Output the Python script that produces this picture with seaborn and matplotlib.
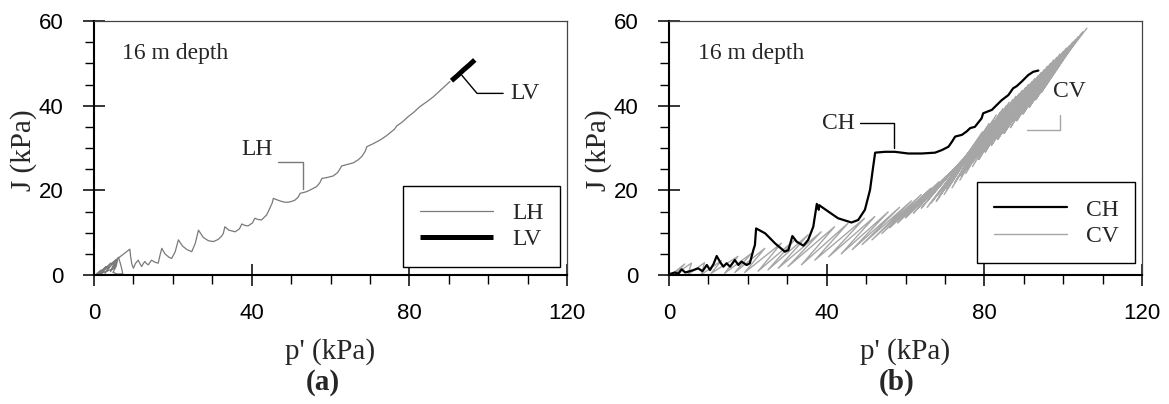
import matplotlib
matplotlib.use("Agg")
import matplotlib.pyplot as plt
import seaborn as sns
from matplotlib.ticker import MultipleLocator, FixedLocator

# ---------------- data ----------------
x_ticks = [0, 40, 80, 120]
y_ticks = [0, 20, 40, 60]

# Panel (a): LH path (cyclic horizontal loading) and LV path
lh_p = [0.3, 1.8, 1.0, 3.0, 1.8, 4.2, 2.8, 5.4, 4.2, 6.2, 6.6, 7.0, 7.3, 6.0, 4.8, 5.6, 6.0, 5.0,
        0.6, 9.1, 9.3, 9.6, 10.0, 10.5, 11.2, 11.7, 12.1, 12.5, 12.9, 13.3, 13.8, 14.2, 14.6, 15.5,
        16.3, 16.7, 17.2, 18.0, 19.0, 19.7, 20.6, 21.4, 22.5, 23.6, 24.8, 25.7, 26.5, 27.7, 29.0,
        30.3, 31.5, 32.4, 32.8, 33.2, 34.2, 35.8, 36.9, 37.5, 38.3, 39.1, 40.2, 40.8, 41.7, 42.5,
        43.8, 44.6, 45.2, 45.5, 46.3, 47.2, 48.3, 49.3, 50.2, 51.0, 51.8, 52.3, 53.2, 54.0, 55.3,
        56.5, 57.3, 57.8, 59.0, 60.7, 61.8, 62.5, 62.8, 64.2, 65.8, 67.0, 67.9, 68.8, 69.2, 70.8,
        72.6, 74.2, 75.5, 76.2, 76.8, 78.3, 79.7, 81.2, 82.7, 84.4, 86.1, 88.2, 90.3]
lh_J = [0.0, 1.2, 0.1, 2.0, 0.2, 2.8, 0.4, 3.5, 0.8, 4.2, 3.0, 1.6, 0.3, 0.2, 0.6, 2.0, 3.6, 1.5,
        0.0, 6.1, 4.3, 2.6, 1.6, 2.7, 3.5, 2.6, 2.0, 2.7, 3.2, 2.7, 2.4, 3.0, 3.5, 3.0,
        2.8, 4.5, 6.3, 5.0, 4.2, 3.9, 5.5, 8.3, 6.8, 6.0, 5.5, 7.5, 10.6, 8.9, 8.1,
        7.9, 8.4, 9.2, 9.8, 11.4, 10.6, 10.2, 10.9, 12.05, 11.7, 11.6, 12.3, 13.4, 13.1, 13.0,
        14.2, 15.75, 17.0, 18.1, 17.8, 17.5, 17.2, 17.2, 17.4, 17.7, 18.4, 19.3, 19.5, 19.7, 20.3,
        20.9, 21.8, 22.8, 23.0, 23.4, 24.2, 25.2, 25.75, 26.1, 26.5, 27.2, 27.95, 29.2, 30.3, 31.0,
        31.9, 32.9, 33.9, 34.4, 35.2, 36.2, 37.4, 38.5, 39.8, 40.9, 42.1, 43.9, 45.7]
lv_p = [90.7, 92.2, 93.7, 95.2, 96.6]
lv_J = [45.9, 47.1, 48.4, 49.6, 50.8]

# Panel (b): CH path
ch_p = [0.25, 1.5, 2.4, 3.22, 4.1, 4.9, 6.0, 7.4, 8.5, 9.6, 10.4, 11.3, 12.1, 13.0, 13.8, 14.6, 15.5,
        16.7, 17.6, 18.4, 19.7, 20.5, 21.4, 21.8, 22.1, 24.4, 26.9, 29.4, 30.3, 31.3, 32.4, 34.1,
        35.3, 36.6, 37.5, 38.0, 38.1, 38.7, 40.4, 42.9, 46.3, 48.0, 49.7, 51.0, 51.8, 52.3, 54.8,
        57.3, 60.7, 64.1, 67.5, 69.2, 70.9, 71.8, 72.6, 74.3, 75.5, 76.4, 77.6, 79.3, 79.7, 81.9,
        84.4, 86.1, 87.3, 88.2, 89.5, 91.1, 92.4, 93.7]
ch_J = [0.24, 0.6, 0.3, 1.34, 0.6, 0.79, 1.1, 1.57, 0.9, 2.36, 1.18, 2.6, 4.49, 3.0, 1.97, 2.76, 1.97,
        3.54, 2.36, 3.15, 2.36, 2.76, 5.9, 7.1, 11.0, 9.84, 7.48, 5.51, 5.9, 9.2, 7.87, 6.93,
        8.27, 11.4, 16.8, 15.4, 16.5, 16.1, 15.0, 13.4, 12.4, 13.0, 15.4, 20.1, 25.6, 28.9, 29.1,
        29.1, 28.7, 28.7, 28.9, 29.5, 30.3, 31.5, 32.7, 33.1, 33.9, 34.7, 35.0, 37.0, 38.2, 39.0,
        41.3, 42.5, 44.1, 44.6, 45.7, 47.2, 48.0, 48.3]

# Panel (b): CV cycles (lower-left and upper-right end of each load cycle)
cv_start_p = [0.5, 1.4, 4.8, 8.2, 10.7, 14.1, 16.7, 19.2, 22.6, 25.1, 27.7, 30.2, 33.6, 37.0, 40.5,
              43.7, 46.5, 49.0, 51.5, 54.0, 56.0, 58.0, 60.0, 62.0, 64.0, 65.5, 66.5, 67.8, 68.5,
              69.8, 70.5, 71.8, 72.5, 73.8, 74.0, 75.3, 75.5, 77.0, 77.0, 78.6, 78.5, 80.2, 80.0,
              81.8, 81.5, 83.4, 83.0, 85.0, 84.5, 86.6, 86.0, 88.2, 87.5, 89.8, 89.0, 91.4, 90.5,
              93.0, 92.0, 94.5, 93.5, 95.0]
cv_start_J = [0.0, 0.1, 0.1, 0.1, 0.4, 0.4, 0.6, 0.6, 0.9, 1.2, 1.6, 2.0, 2.4, 3.5, 4.3,
              5.0, 6.0, 7.2, 8.3, 9.8, 11.2, 12.3, 13.5, 14.6, 15.8, 16.0, 17.0, 17.4, 18.6,
              19.0, 20.2, 20.6, 21.8, 22.4, 23.4, 24.0, 25.0, 25.6, 26.6, 27.3, 28.2, 29.0, 29.8,
              30.6, 31.2, 32.0, 32.2, 33.4, 33.5, 34.8, 35.0, 36.4, 36.5, 38.0, 38.0, 39.6, 39.5,
              41.4, 41.2, 43.2, 43.0, 45.0]
cv_end_p = [4.0, 5.7, 9.0, 13.3, 17.5, 20.9, 24.3, 28.5, 31.9, 35.3, 38.6, 42.0, 45.4, 49.6, 52.2,
            55.6, 58.5, 61.5, 64.0, 66.5, 68.5, 70.5, 72.5, 74.5, 76.5, 77.5, 78.0, 79.0, 79.5,
            80.5, 81.2, 82.2, 83.0, 84.0, 84.7, 85.6, 86.3, 87.2, 88.0, 88.8, 89.6, 90.4, 91.2,
            92.0, 92.8, 93.6, 94.4, 95.2, 96.0, 96.8, 97.6, 98.4, 99.2, 100.0, 100.8, 101.6, 102.4,
            103.1, 103.8, 104.5, 105.0, 106.0]
cv_end_J = [2.6, 2.8, 2.9, 3.4, 4.4, 5.1, 6.3, 7.5, 8.3, 9.5, 10.2, 11.4, 12.2, 13.4, 13.8,
            14.9, 16.0, 17.5, 19.0, 20.5, 22.0, 23.5, 25.3, 27.3, 29.5, 30.0, 31.5, 32.3, 33.8,
            34.5, 35.8, 36.5, 37.8, 38.4, 39.3, 40.0, 40.8, 41.4, 42.2, 42.8, 43.6, 44.2, 45.0,
            45.6, 46.4, 47.0, 47.8, 48.5, 49.3, 50.0, 50.8, 51.4, 52.2, 52.8, 53.6, 54.2, 55.0,
            55.6, 56.3, 56.9, 57.4, 58.3]

# ---------------- style ----------------
sns.set_theme(style="ticks")
plt.rcParams['font.family'] = ['Liberation Sans', 'DejaVu Sans']
SERIF = ['Liberation Serif', 'DejaVu Serif']
GRAY_LH = '#7a7a7a'
GRAY_CV = '#a6a6a6'

fig = plt.figure(figsize=(11.69, 4.04), dpi=100)
W, H = 1169, 404
axA = fig.add_axes([94 / W, 129 / H, 473 / W, 254 / H])
axB = fig.add_axes([669 / W, 129 / H, 473 / W, 254 / H])


def style(ax):
    ax.set_xlim(x_ticks[0], x_ticks[-1])
    ax.set_ylim(y_ticks[0], y_ticks[-1])
    ax.xaxis.set_major_locator(FixedLocator(x_ticks))
    ax.yaxis.set_major_locator(FixedLocator(y_ticks))
    ax.xaxis.set_minor_locator(MultipleLocator(10))
    ax.yaxis.set_minor_locator(MultipleLocator(5))
    ax.set_xticklabels([str(v) for v in x_ticks])
    ax.set_yticklabels([str(v) for v in y_ticks])
    ax.tick_params(which='major', direction='inout', length=16, width=1.1,
                   labelsize=16, colors='black', top=False, right=False)
    ax.tick_params(axis='x', which='major', pad=12)
    ax.tick_params(axis='y', which='major', pad=14)
    ax.tick_params(which='minor', direction='out', length=6.5, width=1.0,
                   top=False, right=False, colors='black')
    for s in ['left', 'bottom']:
        ax.spines[s].set_linewidth(1.5)
        ax.spines[s].set_color('black')
    for s in ['top', 'right']:
        ax.spines[s].set_linewidth(0.9)
        ax.spines[s].set_color('#444444')
    ax.set_xlabel("p' (kPa)", fontsize=21, family=SERIF, va='center')
    ax.set_ylabel("J (kPa)", fontsize=21, family=SERIF, va='center')
    ax.xaxis.set_label_coords(0.5, -0.303)
    ax.yaxis.set_label_coords(-0.150, 0.49)


def leader(ax, start, end, angA, angB, color):
    ax.annotate('', xy=end, xytext=start, xycoords='data', textcoords='data',
                arrowprops=dict(arrowstyle='-', color=color, lw=1.0, shrinkA=0, shrinkB=0,
                                connectionstyle=f'angle,angleA={angA},angleB={angB},rad=0'))


def legend(ax, handles, labels, y0):
    leg = ax.legend(handles, labels, loc='lower right', bbox_to_anchor=(0.985, y0),
                    borderaxespad=0, prop={'family': SERIF, 'size': 17}, frameon=True,
                    fancybox=False, edgecolor='black', framealpha=1, handlelength=3.1,
                    handletextpad=0.8, borderpad=0.7, labelspacing=0.2)
    leg.get_frame().set_linewidth(1.0)


# ---- panel (a) ----
sns.lineplot(x=lh_p, y=lh_J, sort=False, estimator=None, color=GRAY_LH, lw=0.9, ax=axA, label='LH')
sns.lineplot(x=lv_p, y=lv_J, sort=False, estimator=None, color='black', lw=3.6, ax=axA, label='LV',
             solid_capstyle='butt')
style(axA)
axA.text(7.0, 52.4, "16 m depth", fontsize=17, family=SERIF, ha='left', va='center')
axA.text(41.3, 29.7, "LH", fontsize=17, family=SERIF, ha='center', va='center')
leader(axA, (46.8, 26.8), (52.9, 20.2), 0, 90, GRAY_LH)
axA.text(109.3, 42.9, "LV", fontsize=17, family=SERIF, ha='center', va='center')
leader(axA, (103.8, 42.9), (93.3, 47.2), 0, 130, 'black')
hA, lA = axA.get_legend_handles_labels()
legend(axA, hA, lA, 0.033)

# ---- panel (b) ----
cv_p, cv_J = [], []
for a, b, c, d in zip(cv_start_p, cv_start_J, cv_end_p, cv_end_J):
    cv_p += [a, c]
    cv_J += [b, d]
sns.lineplot(x=cv_p, y=cv_J, sort=False, estimator=None, color=GRAY_CV, lw=1.0, ax=axB, label='CV')
sns.lineplot(x=ch_p, y=ch_J, sort=False, estimator=None, color='black', lw=1.6, ax=axB, label='CH')
style(axB)
axB.text(7.4, 52.4, "16 m depth", fontsize=17, family=SERIF, ha='left', va='center')
axB.text(43.0, 35.9, "CH", fontsize=17, family=SERIF, ha='center', va='center')
leader(axB, (48.5, 35.8), (57.2, 29.9), 0, 90, 'black')
axB.text(101.7, 43.3, "CV", fontsize=17, family=SERIF, ha='center', va='center')
leader(axB, (99.2, 37.8), (90.7, 34.3), 90, 0, GRAY_CV)
hB, lB = axB.get_legend_handles_labels()
order = [lB.index('CH'), lB.index('CV')]
legend(axB, [hB[i] for i in order], [lB[i] for i in order], 0.046)

fig.text(323 / W, 1 - 382 / H, "(a)", fontsize=21, family=SERIF, weight='bold', ha='center', va='center')
fig.text(897 / W, 1 - 382 / H, "(b)", fontsize=21, family=SERIF, weight='bold', ha='center', va='center')

fig.savefig("out.png", dpi=100)
